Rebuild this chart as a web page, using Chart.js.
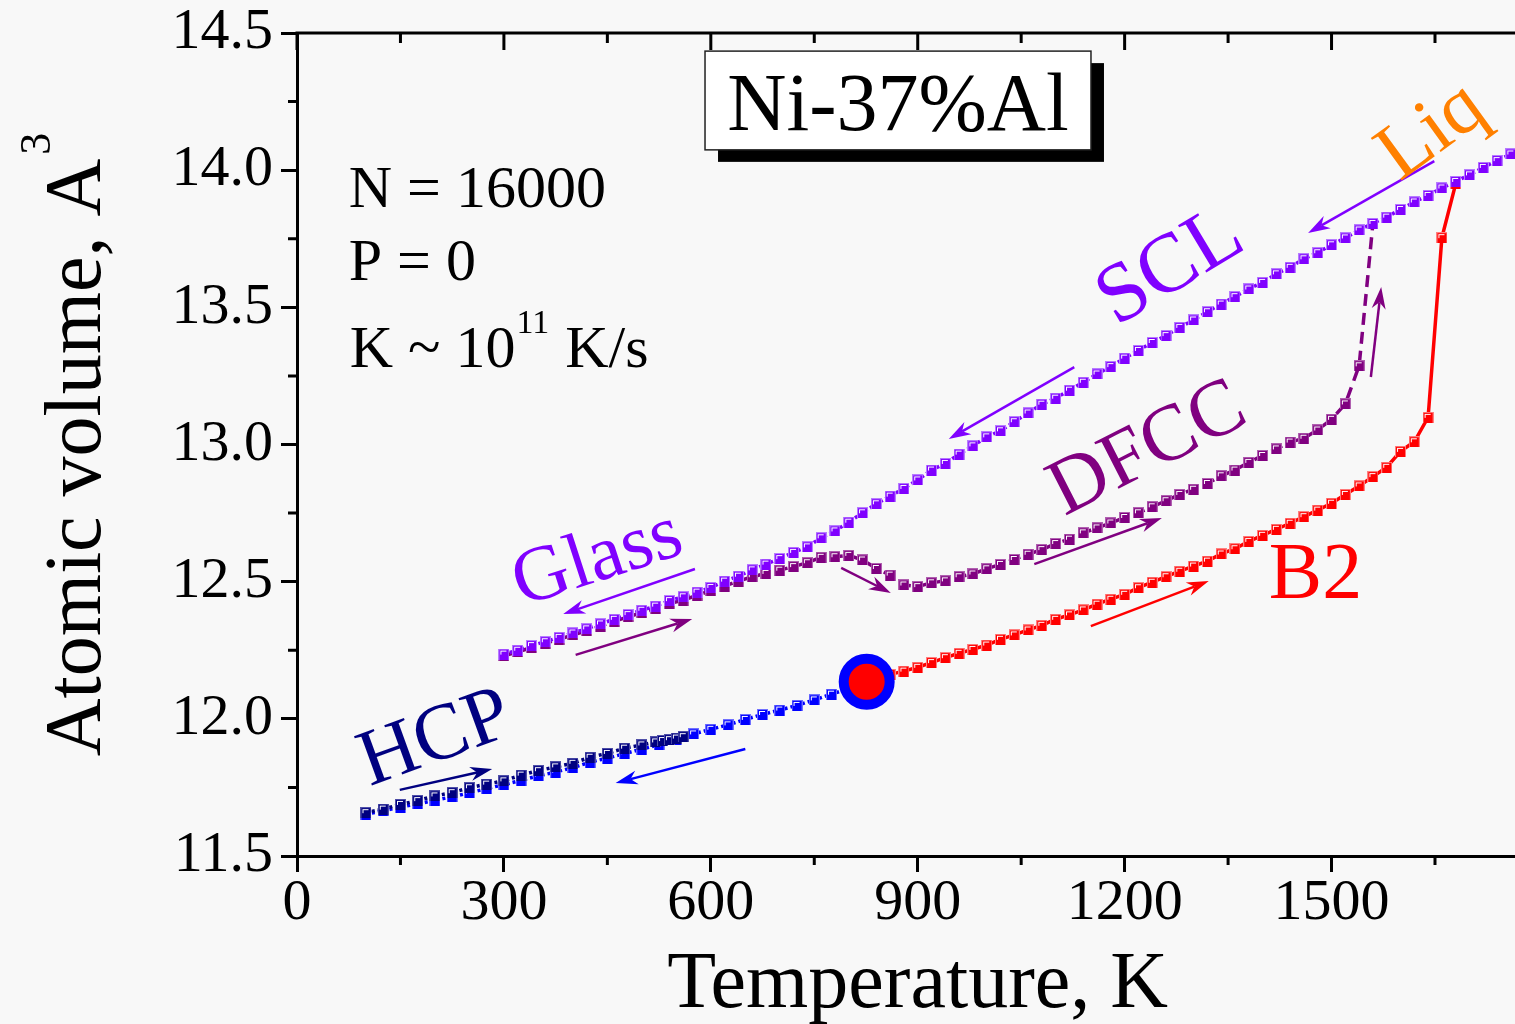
<!DOCTYPE html>
<html>
<head>
<meta charset="utf-8">
<script src="https://cdn.jsdelivr.net/npm/chart.js@4.4.1/dist/chart.umd.min.js"></script>
<style>
  html, body { margin: 0; padding: 0; background: #f8f8f8; overflow: hidden; }
</style>
</head>
<body>
<canvas id="c" width="1515" height="1024"></canvas>
<script>
// liquid cooled down -> supercooled liquid -> glass
const liqCoolT = [300, 320, 340, 360, 380, 400, 420, 440, 460, 480,
  500, 520, 540, 560, 580, 600, 620, 640, 660, 680,
  700, 720, 740, 760, 780, 800, 820, 840, 860, 880,
  900, 920, 940, 960, 980, 1000, 1020, 1040, 1060, 1080,
  1100, 1120, 1140, 1160, 1180, 1200, 1220, 1240, 1260, 1280,
  1300, 1320, 1340, 1360, 1380, 1400, 1420, 1440, 1460, 1480,
  1500, 1520, 1540, 1560, 1580, 1600, 1620, 1640, 1660, 1680,
  1700, 1720, 1740, 1760];
const liqCoolV = [12.236, 12.250, 12.267, 12.281, 12.297, 12.313, 12.328, 12.346, 12.363, 12.380,
  12.396, 12.411, 12.431, 12.445, 12.462, 12.479, 12.502, 12.520, 12.543, 12.564,
  12.584, 12.607, 12.627, 12.660, 12.685, 12.717, 12.751, 12.784, 12.812, 12.840,
  12.871, 12.907, 12.931, 12.965, 12.995, 13.028, 13.050, 13.083, 13.115, 13.147,
  13.169, 13.198, 13.227, 13.257, 13.284, 13.315, 13.343, 13.372, 13.397, 13.427,
  13.454, 13.484, 13.512, 13.539, 13.567, 13.591, 13.622, 13.646, 13.677, 13.699,
  13.728, 13.753, 13.782, 13.806, 13.829, 13.857, 13.884, 13.908, 13.935, 13.959,
  13.983, 14.010, 14.035, 14.059];

// glass heated -> DFCC -> melts
const dfccHeatT = [300, 320, 340, 360, 380, 400, 420, 440, 460, 480,
  500, 520, 540, 560, 580, 600, 620, 640, 660, 680,
  700, 720, 740, 760, 780, 800, 820, 840, 860, 880,
  900, 920, 940, 960, 980, 1000, 1020, 1040, 1060, 1080,
  1100, 1120, 1140, 1160, 1180, 1200, 1220, 1240, 1260, 1280,
  1300, 1320, 1340, 1360, 1380, 1400, 1420, 1440, 1460, 1480,
  1500, 1520, 1540, 1560];
const dfccHeatV = [12.230, 12.244, 12.260, 12.275, 12.290, 12.306, 12.321, 12.338, 12.355, 12.372,
  12.387, 12.402, 12.420, 12.433, 12.450, 12.467, 12.484, 12.502, 12.518, 12.530,
  12.542, 12.555, 12.569, 12.589, 12.591, 12.596, 12.579, 12.548, 12.524, 12.488,
  12.482, 12.496, 12.503, 12.518, 12.528, 12.547, 12.563, 12.581, 12.600, 12.617,
  12.639, 12.655, 12.678, 12.696, 12.714, 12.734, 12.751, 12.773, 12.795, 12.818,
  12.837, 12.858, 12.886, 12.907, 12.935, 12.960, 12.984, 13.009, 13.023, 13.053,
  13.092, 13.148, 13.287, 13.806];

// B2 heated -> melts
const b2HeatT = [840, 860, 880, 900, 920, 940, 960, 980, 1000, 1020,
  1040, 1060, 1080, 1100, 1120, 1140, 1160, 1180, 1200, 1220,
  1240, 1260, 1280, 1300, 1320, 1340, 1360, 1380, 1400, 1420,
  1440, 1460, 1480, 1500, 1520, 1540, 1560, 1580, 1600, 1620,
  1640, 1660, 1680];
const b2HeatV = [12.150, 12.162, 12.174, 12.188, 12.205, 12.223, 12.239, 12.253, 12.269, 12.290,
  12.306, 12.324, 12.341, 12.363, 12.379, 12.397, 12.418, 12.436, 12.454, 12.478,
  12.498, 12.518, 12.538, 12.557, 12.575, 12.601, 12.620, 12.647, 12.669, 12.691,
  12.713, 12.737, 12.761, 12.786, 12.818, 12.849, 12.883, 12.917, 12.975, 13.010,
  13.099, 13.754, 13.950];

// B2 cooled -> HCP
const hcpCoolT = [100, 125, 150, 175, 200, 225, 250, 275, 300, 325,
  350, 375, 400, 425, 450, 475, 500, 525, 550, 575,
  600, 625, 650, 675, 700, 725, 750, 775, 800];
const hcpCoolV = [11.652, 11.665, 11.678, 11.690, 11.703, 11.716, 11.730, 11.746, 11.760, 11.776,
  11.792, 11.806, 11.822, 11.842, 11.857, 11.873, 11.890, 11.906, 11.925, 11.945,
  11.962, 11.978, 11.998, 12.016, 12.032, 12.049, 12.069, 12.090, 12.110];

// HCP heated
const hcpHeatT = [100, 125, 150, 175, 200, 225, 250, 275, 300, 325,
  350, 375, 400, 425, 450, 475, 500, 520, 530, 540, 550, 560];
const hcpHeatV = [11.658, 11.671, 11.688, 11.702, 11.719, 11.731, 11.749, 11.762, 11.774, 11.795,
  11.811, 11.825, 11.838, 11.860, 11.874, 11.893, 11.905, 11.916, 11.921, 11.924, 11.930, 11.935];

// HCP <-> B2 transition point
const transT = [826];
const transV = [12.135];

const xTicks = [0, 300, 600, 900, 1200, 1500];
const yTicks = [11.5, 12.0, 12.5, 13.0, 13.5, 14.0, 14.5];

const SERIF = '"Liberation Serif", "Times New Roman", serif';
const VIOLET = '#8000ff', PURPLE = '#800080', RED = '#ff0000',
  BLUE = '#0000ff', NAVY = '#000080', ORANGE = '#ff8000';

// square marker with the little white highlight
function makeMarker(fill, edge) {
  const c = document.createElement('canvas');
  c.width = 11; c.height = 11;
  const g = c.getContext('2d');
  g.fillStyle = edge; g.fillRect(0, 0, 11, 11);
  g.fillStyle = fill; g.fillRect(1, 1, 9, 10);
  g.fillStyle = '#ffffff';
  g.fillRect(2, 2, 6, 1);
  g.fillRect(2, 2, 1, 4);
  return c;
}

function series(label, xs, ys, color, edge, extra) {
  return Object.assign({
    label: label,
    data: xs.map((t, i) => ({ x: t, y: ys[i] })),
    showLine: true,
    borderColor: color,
    backgroundColor: color,
    borderWidth: 3.5,
    pointStyle: makeMarker(color, edge),
    pointRadius: 5,
    pointHoverRadius: 5
  }, extra || {});
}

// annotations, all in data units (K, A^3)
const texts = [
  { text: 'SCL', t: 1267, v: 13.643, angle: -31, color: VIOLET, size: 84 },
  { text: 'Liq', t: 1646, v: 14.139, angle: -36, color: ORANGE, size: 80 },
  { text: 'DFCC', t: 1234, v: 12.980, angle: -27, color: PURPLE, size: 80 },
  { text: 'Glass', t: 436, v: 12.579, angle: -18, color: VIOLET, size: 78 },
  { text: 'HCP', t: 201, v: 11.923, angle: -20, color: NAVY, size: 80 }
];
const arrows = [
  { from: [1649, 14.033], to: [1466, 13.771], color: VIOLET },
  { from: [1127, 13.282], to: [945, 13.020], color: VIOLET },
  { from: [577, 12.546], to: [386, 12.382], color: VIOLET },
  { from: [404, 12.233], to: [573, 12.364], color: PURPLE },
  { from: [789, 12.550], to: [861, 12.459], color: PURPLE },
  { from: [1069, 12.564], to: [1254, 12.732], color: PURPLE },
  { from: [1557, 13.246], to: [1572, 13.574], color: PURPLE },
  { from: [1151, 12.338], to: [1322, 12.502], color: RED },
  { from: [650, 11.890], to: [462, 11.766], color: BLUE },
  { from: [149, 11.741], to: [283, 11.817], color: NAVY }
];

function drawArrow(ctx, x1, y1, x2, y2, color) {
  const a = Math.atan2(y2 - y1, x2 - x1);
  const c = Math.cos(a), s = Math.sin(a);
  const L = 22, W = 7;
  ctx.strokeStyle = color;
  ctx.lineWidth = 2.5;
  ctx.beginPath();
  ctx.moveTo(x1, y1);
  ctx.lineTo(x2 - L * 0.7 * c, y2 - L * 0.7 * s);
  ctx.stroke();
  ctx.fillStyle = color;
  ctx.beginPath();
  ctx.moveTo(x2, y2);
  ctx.lineTo(x2 - L * c + W * s, y2 - L * s - W * c);
  ctx.lineTo(x2 - L * 0.7 * c, y2 - L * 0.7 * s);
  ctx.lineTo(x2 - L * c - W * s, y2 - L * s + W * c);
  ctx.closePath();
  ctx.fill();
}

const decor = {
  id: 'decor',
  afterDraw(chart) {
    const ctx = chart.ctx;
    const area = chart.chartArea;
    const xs = chart.scales.x, ys = chart.scales.y;
    const px = t => xs.getPixelForValue(t);
    const py = v => ys.getPixelForValue(v);
    ctx.save();

    // top axis with inward ticks, minor ticks everywhere
    ctx.strokeStyle = '#000';
    ctx.lineWidth = 3;
    ctx.beginPath();
    ctx.moveTo(area.left - 1.5, area.top);
    ctx.lineTo(area.right, area.top);
    for (let t = 0; t <= 1650; t += 150) {
      const major = t % 300 === 0;
      ctx.moveTo(px(t), area.top);
      ctx.lineTo(px(t), area.top + (major ? 17 : 10));
      if (!major) {
        ctx.moveTo(px(t), area.bottom);
        ctx.lineTo(px(t), area.bottom + 9);
      }
    }
    for (let v = 11.75; v < 14.5; v += 0.5) {
      ctx.moveTo(area.left, py(v));
      ctx.lineTo(area.left - 9, py(v));
    }
    ctx.stroke();

    // x title, centred on the full 0..1800 axis (right part is cropped)
    ctx.fillStyle = '#000';
    ctx.font = '80px ' + SERIF;
    ctx.textAlign = 'center';
    ctx.textBaseline = 'alphabetic';
    ctx.fillText('Temperature, K', (px(0) + px(1800)) / 2, 1007);

    // y title with superscript
    const main = 'Atomic volume, A';
    const wMain = ctx.measureText(main).width;
    ctx.font = '44px ' + SERIF;
    const wSup = ctx.measureText('3').width;
    const total = wMain + 4 + wSup;
    ctx.save();
    ctx.translate(100, (area.top + area.bottom) / 2 + total / 2);
    ctx.rotate(-Math.PI / 2);
    ctx.textAlign = 'left';
    ctx.font = '80px ' + SERIF;
    ctx.fillText(main, 0, 0);
    ctx.font = '44px ' + SERIF;
    ctx.fillText('3', wMain + 4, -50);
    ctx.restore();

    // arrows
    arrows.forEach(a => drawArrow(ctx, px(a.from[0]), py(a.from[1]), px(a.to[0]), py(a.to[1]), a.color));

    // rotated phase labels
    texts.forEach(l => {
      ctx.save();
      ctx.translate(px(l.t), py(l.v));
      ctx.rotate(l.angle * Math.PI / 180);
      ctx.font = l.size + 'px ' + SERIF;
      ctx.fillStyle = l.color;
      ctx.textAlign = 'center';
      ctx.textBaseline = 'middle';
      ctx.fillText(l.text, 0, 0);
      ctx.restore();
    });

    // B2 label
    ctx.textAlign = 'left';
    ctx.textBaseline = 'alphabetic';
    ctx.fillStyle = RED;
    ctx.font = '80px ' + SERIF;
    ctx.fillText('B2', px(1409), py(12.440));

    // info block
    ctx.fillStyle = '#000';
    ctx.font = '60px ' + SERIF;
    const ix = px(75);
    ctx.fillText('N = 16000', ix, py(13.866));
    ctx.fillText('P = 0', ix, py(13.600));
    const ky = py(13.282);
    ctx.fillText('K ~ 10', ix + 1, ky);
    const w1 = ctx.measureText('K ~ 10').width;
    ctx.font = '34px ' + SERIF;
    ctx.fillText('11', ix + 1 + w1 + 1, ky - 34);
    const w2 = ctx.measureText('11').width;
    ctx.font = '60px ' + SERIF;
    ctx.fillText(' K/s', ix + 1 + w1 + w2 + 2, ky);

    // composition box with shadow
    const bx1 = px(591.6), by1 = py(14.434), bx2 = px(1151.2), by2 = py(14.074);
    ctx.fillStyle = '#000';
    ctx.fillRect(bx1 + 13, by1 + 12, bx2 - bx1, by2 - by1);
    ctx.fillStyle = '#fff';
    ctx.fillRect(bx1, by1, bx2 - bx1, by2 - by1);
    ctx.strokeStyle = '#222';
    ctx.lineWidth = 1.5;
    ctx.strokeRect(bx1, by1, bx2 - bx1, by2 - by1);
    ctx.fillStyle = '#000';
    ctx.font = '82px ' + SERIF;
    ctx.textAlign = 'center';
    ctx.fillText('Ni-37%Al', (bx1 + bx2) / 2, py(14.146));

    ctx.restore();
  }
};

const tickFont = { size: 58, family: SERIF, lineHeight: 1 };
const dotted = { borderDash: [3, 3] };

new Chart(document.getElementById('c'), {
  type: 'scatter',
  data: {
    datasets: [
      { label: 'transition', data: transT.map((t, i) => ({ x: t, y: transV[i] })),
        showLine: false, pointStyle: 'circle', pointRadius: 23, pointHoverRadius: 23,
        backgroundColor: RED, borderColor: BLUE, borderWidth: 10 },
      series('Liquid cooling', liqCoolT, liqCoolV, VIOLET, '#b77cff', dotted),
      series('DFCC heating', dfccHeatT, dfccHeatV, PURPLE, '#b060b0', { borderDash: [12, 7] }),
      series('B2 heating', b2HeatT, b2HeatV, RED, '#ff8080'),
      series('HCP heating', hcpHeatT, hcpHeatV, NAVY, '#5050a8', dotted),
      series('HCP cooling', hcpCoolT, hcpCoolV, BLUE, '#7070ff', dotted)
    ]
  },
  options: {
    responsive: false,
    animation: false,
    events: [],
    layout: { autoPadding: false, padding: { top: 33, right: 0, left: 0, bottom: 0 } },
    plugins: { legend: { display: false }, tooltip: { enabled: false } },
    scales: {
      x: {
        type: 'linear', min: 0, max: 1766,
        afterBuildTicks: s => { s.ticks = xTicks.map(v => ({ value: v })); },
        afterFit: s => { s.height = 168; s.paddingLeft = 0; s.paddingRight = 0; },
        grid: { drawOnChartArea: false, drawTicks: true, tickLength: 16, tickWidth: 3, tickColor: '#000' },
        border: { display: true, color: '#000', width: 3 },
        ticks: { font: tickFont, color: '#000', padding: 3, maxRotation: 0, autoSkip: false,
          callback: v => String(v) }
      },
      y: {
        type: 'linear', min: 11.5, max: 14.5,
        afterBuildTicks: s => { s.ticks = yTicks.map(v => ({ value: v })); },
        afterFit: s => { s.width = 297; s.paddingTop = 0; s.paddingBottom = 0; },
        grid: { drawOnChartArea: false, drawTicks: true, tickLength: 16, tickWidth: 3, tickColor: '#000' },
        border: { display: true, color: '#000', width: 3 },
        ticks: { font: tickFont, color: '#000', padding: 8, callback: v => Number(v).toFixed(1) }
      }
    }
  },
  plugins: [decor]
});
</script>
</body>
</html>
